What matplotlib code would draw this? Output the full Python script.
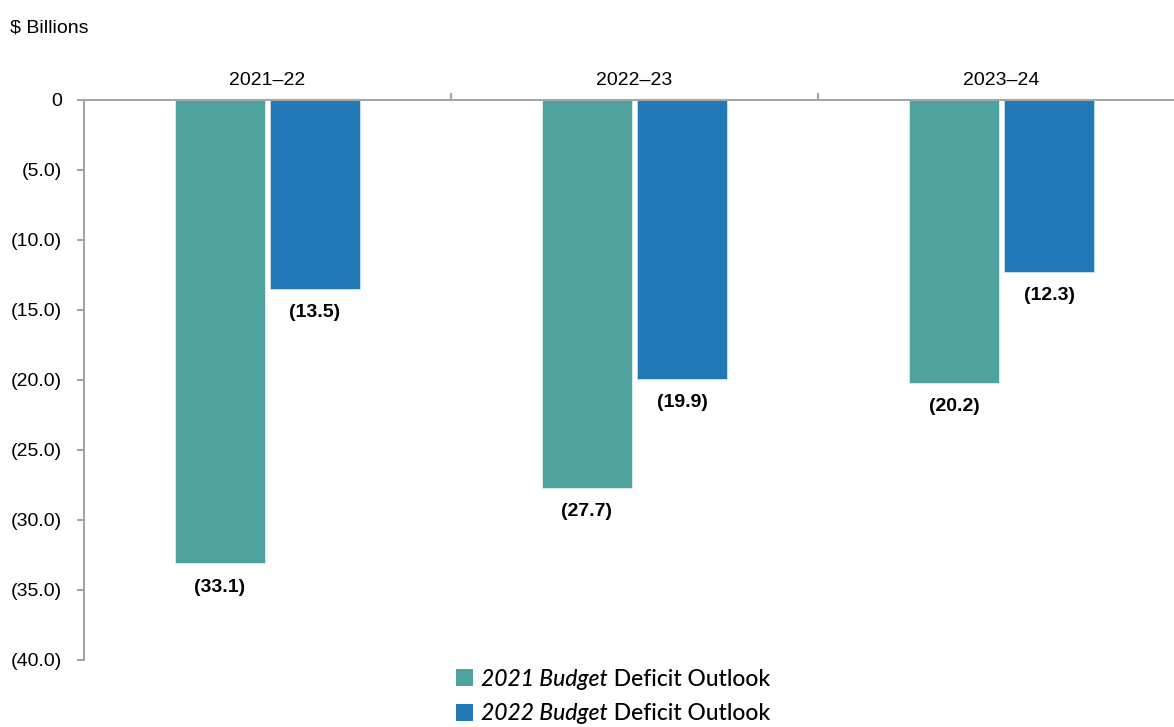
import matplotlib
matplotlib.use("Agg")
import matplotlib.pyplot as plt
from matplotlib.patches import Rectangle
import numpy as np

categories = ["2021–22", "2022–23", "2023–24"]
budget_2021 = [-33.1, -27.7, -20.2]
budget_2022 = [-13.5, -19.9, -12.3]
series_italic = ["2021 Budget", "2022 Budget"]
series_suffix = " Deficit Outlook"
yticks = [0, -5, -10, -15, -20, -25, -30, -35, -40]
ytick_labels = ["0", "(5.0)", "(10.0)", "(15.0)", "(20.0)", "(25.0)",
                "(30.0)", "(35.0)", "(40.0)"]

GREEN = "#4fa39e"
BLUE = "#2178b7"
GRAY = "#a6a6a8"
colors = [GREEN, BLUE]

plt.rcParams["font.family"] = ["Liberation Sans", "DejaVu Sans"]

W, H = 1174, 727
fig = plt.figure(figsize=(W / 100, H / 100), dpi=100)
left, right, top, bottom = 84, 1185, 100, 660
ax = fig.add_axes([left / W, 1 - bottom / H, (right - left) / W, (bottom - top) / H])

x = np.arange(len(categories))
bw = 0.247
gap = 0.006
ax.bar(x - bw / 2 - gap, budget_2021, width=bw, color=GREEN, edgecolor="#dfeeed", linewidth=0.6, zorder=2)
ax.bar(x + bw / 2 + gap, budget_2022, width=bw, color=BLUE, edgecolor="#cfe2f0", linewidth=0.6, zorder=2)

def fmt(v):
    return f"({abs(v):.1f})"

for xi, v in zip(x - bw / 2 - gap, budget_2021):
    ax.text(xi, v - 1.7, fmt(v), ha="center", va="center", fontsize=14, fontweight="bold")
for xi, v in zip(x + bw / 2 + gap, budget_2022):
    ax.text(xi, v - 1.7, fmt(v), ha="center", va="center", fontsize=14, fontweight="bold")

ax.set_xlim(-0.5, len(categories) - 0.5)
ax.set_ylim(-40, 0)

# axes styling
for s in ["right", "bottom"]:
    ax.spines[s].set_visible(False)
for s in ["left", "top"]:
    ax.spines[s].set_color(GRAY)
    ax.spines[s].set_linewidth(1.5)

ax.set_yticks(yticks)
ax.set_yticklabels(ytick_labels, fontsize=14)
ax.tick_params(axis="y", direction="out", length=5, width=1.5, color=GRAY, pad=11)

ax.xaxis.tick_top()
ax.set_xticks(x)
ax.set_xticklabels(categories, fontsize=14)
ax.set_xticks(np.arange(0.5, len(categories) - 0.5, 1.0), minor=True)
ax.tick_params(axis="x", which="major", length=0, pad=8)
ax.tick_params(axis="x", which="minor", direction="out", length=5, width=1.5, color=GRAY)

fig.text(10 / W, 1 - 28 / H, "$ Billions", fontsize=14, ha="left", va="center")

# legend: colour square, italic title part, regular suffix
renderer = fig.canvas.get_renderer()
leg_x, leg_rows, sq = 456, [677, 712], 17
for color, ital, row in zip(colors, series_italic, leg_rows):
    fig.patches.append(Rectangle((leg_x / W, 1 - (row + sq / 2) / H), sq / W, sq / H,
                                 transform=fig.transFigure, facecolor=color, edgecolor="none"))
    t1 = fig.text((leg_x + sq + 8) / W, 1 - row / H, ital, fontsize=16.5, family="Lato",
                  style="italic", fontweight="medium", ha="left", va="center_baseline")
    bb = t1.get_window_extent(renderer)
    fig.text(bb.x1 / W, 1 - row / H, series_suffix, fontsize=16.5, family="Lato",
             fontweight="medium", ha="left", va="center_baseline")

fig.savefig("out.png", dpi=100)
